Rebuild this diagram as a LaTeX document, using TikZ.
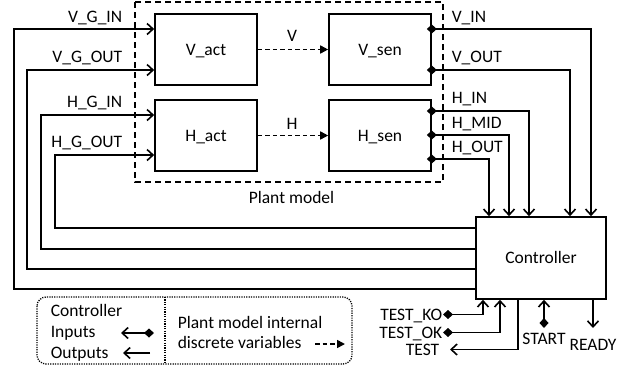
\documentclass[tikz,border=0pt]{standalone}
\usepackage{fontspec}
\setmainfont{Carlito}
\usetikzlibrary{arrows.meta}

\begin{document}
\begin{tikzpicture}[x=1pt, y=-1pt, line width=1.6pt,
    txt/.style={font=\fontsize{17.5}{20}\selectfont, inner sep=0pt,
                text height=11pt, text depth=0pt},
    blk/.style={draw, txt, minimum width=102pt, minimum height=71pt},
    ctrlout/.style={-{Straight Barb[length=6pt,width=11pt]}},
    ctrlin/.style={{Diamond[length=10pt,width=9pt]}-{Straight Barb[length=6pt,width=11pt]}},
    sensin/.style={ctrlin, shorten <=-5pt},
    intvar/.style={dash pattern=on 4.5pt off 3pt, -{Triangle[length=8pt,width=8pt]}}]
    \useasboundingbox (0,0) rectangle (636,367);
    % Plant model blocks
    \node[blk] (vact) at (206,49.5) {V\_act};
    \node[blk] (hact) at (206,135.5) {H\_act};
    \node[blk] (vsen) at (380,49.5) {V\_sen};
    \node[blk] (hsen) at (380,135.5) {H\_sen};
    \node[blk, minimum width=130pt, minimum height=82pt] (ctrl) at (541,258) {Controller};
    \draw[dash pattern=on 6pt off 4pt] (135,2) rectangle (443,182);
    \node[txt] (plant) at (291.5,197.5) {Plant model};
    % Internal discrete variables
    \draw[intvar] (vact.east) -- (vsen.west);
    \draw[intvar] (hact.east) -- (hsen.west);
    \node[txt, anchor=south] (vlab) at (292,42) {V};
    \node[txt, anchor=south] (hlab) at (292,130) {H};
    % Controller outputs to actuators
    \draw[ctrlout] (ctrl.west |- 0,289) -| (14,29) -- (vact.west |- 0,29);
    \draw[ctrlout] (ctrl.west |- 0,269) -| (27,70) -- (vact.west |- 0,70);
    \draw[ctrlout] (ctrl.west |- 0,249) -| (41,115) -- (hact.west |- 0,115);
    \draw[ctrlout] (ctrl.west |- 0,228) -| (55,155) -- (hact.west |- 0,155);
    \node[txt, anchor=south east] (vgin) at (123,23) {V\_G\_IN};
    \node[txt, anchor=south east] (vgout) at (123,63) {V\_G\_OUT};
    \node[txt, anchor=south east] (hgin) at (123,108) {H\_G\_IN};
    \node[txt, anchor=south east] (hgout) at (123,148) {H\_G\_OUT};
    % Sensor outputs to controller
    \draw[sensin] (vsen.east |- 0,29) -| (ctrl.north -| 591,0);
    \draw[sensin] (vsen.east |- 0,70) -| (ctrl.north -| 570,0);
    \draw[sensin] (hsen.east |- 0,111) -| (ctrl.north -| 529,0);
    \draw[sensin] (hsen.east |- 0,135) -| (ctrl.north -| 509,0);
    \draw[sensin] (hsen.east |- 0,159) -| (ctrl.north -| 489,0);
    \node[txt, anchor=south west] (vin) at (451,23) {V\_IN};
    \node[txt, anchor=south west] (vout) at (451,63) {V\_OUT};
    \node[txt, anchor=south west] (hin) at (451,104) {H\_IN};
    \node[txt, anchor=south west] (hmid) at (451,129) {H\_MID};
    \node[txt, anchor=south west] (hout) at (451,153) {H\_OUT};
    % Test and start/ready signals
    \node[txt, anchor=east] (tko) at (443,314.5) {TEST\_KO};
    \node[txt, anchor=east] (tok) at (443,332.5) {TEST\_OK};
    \node[txt, anchor=east] (tst) at (440,349.5) {TEST};
    \node[txt, anchor=north] (start) at (544,333) {START};
    \node[txt, anchor=north] (ready) at (593,339) {READY};
    \draw[ctrlin] (tko.east) -| (ctrl.south -| 483,0);
    \draw[ctrlin] (tok.east) -| (ctrl.south -| 500,0);
    \draw[ctrlout] (ctrl.south -| 518,0) |- ([xshift=10pt]tst.east);
    \draw[ctrlin] ([yshift=5pt]start.north) -- (ctrl.south -| start.north);
    \draw[ctrlout] (ctrl.south -| ready.north) -- ([yshift=11pt]ready.north);
    % Legend
    \draw[dash pattern=on 1.2pt off 1.2pt, line width=1.3pt, rounded corners=9pt]
        (37,297) rectangle (352,364);
    \draw[dash pattern=on 1.2pt off 1.2pt, line width=1.3pt] (165,297) -- (165,364);
    \node[txt, anchor=south west] (lgctrl) at (50,317) {Controller};
    \node[txt, anchor=south west] (lgin) at (50,338) {Inputs};
    \node[txt, anchor=south west] (lgout) at (50,359) {Outputs};
    \draw[ctrlin] (154,333) -- (121,333);
    \draw[ctrlout] (150,353) -- (123,353);
    \node[txt, anchor=south west] (lgplant) at (177,329) {Plant model internal};
    \node[txt, anchor=south west] (lgdisc) at (177,349) {discrete variables};
    \draw[intvar] (315,344) -- (345,344);
\end{tikzpicture}
\end{document}
